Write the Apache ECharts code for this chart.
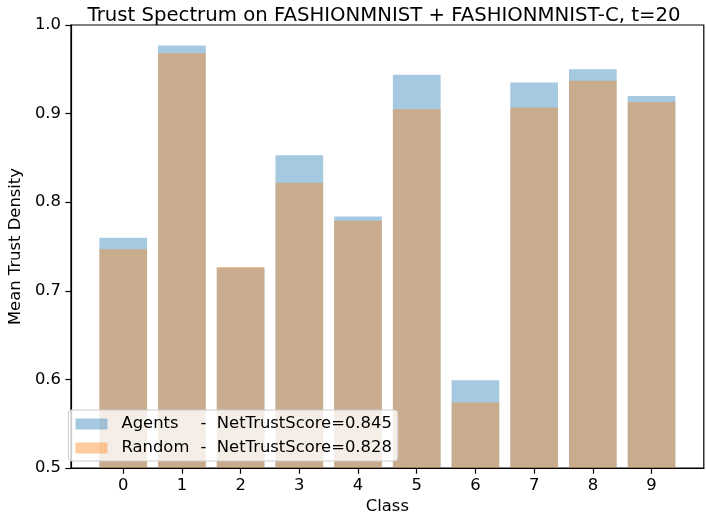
<!DOCTYPE html>
<html>
<head>
<meta charset="utf-8">
<script src="https://cdn.jsdelivr.net/npm/echarts@6/dist/echarts.min.js"></script>
<style>html,body{margin:0;padding:0;background:#fff}#c{width:706px;height:520px}</style>
</head>
<body>
<div id="c"></div>
<script>
var categories = [0, 1, 2, 3, 4, 5, 6, 7, 8, 9];
var agentsValues = [0.760, 0.977, 0.726, 0.853, 0.784, 0.944, 0.599, 0.935, 0.950, 0.920];
var randomValues = [0.747, 0.968, 0.727, 0.822, 0.779, 0.905, 0.574, 0.907, 0.937, 0.913];
var yTicks = [0.5, 0.6, 0.7, 0.8, 0.9, 1.0];
var agentsLabel = 'Agents';
var randomLabel = 'Random';
var agentsScore = '0.845';
var randomScore = '0.828';
var titleText = 'Trust Spectrum on FASHIONMNIST + FASHIONMNIST-C, t=20';

var font = 'DejaVu Sans';
var fs = 16.4;
var chart = echarts.init(document.getElementById('c'), null, {renderer: 'canvas'});
function pairs(vals) { return categories.map(function (c, i) { return [c, vals[i]]; }); }
var scores = {};
scores[agentsLabel] = agentsScore;
scores[randomLabel] = randomScore;

chart.setOption({
  animation: false,
  title: {
    text: titleText,
    left: 379, top: 1, textAlign: 'center',
    textStyle: {fontFamily: font, fontSize: 19.7, fontWeight: 'normal', color: '#000'}
  },
  grid: {left: 60.6, right: 2.2, top: 25, bottom: 48.3, show: true, borderColor: '#000', borderWidth: 1.2, backgroundColor: 'transparent'},
  legend: {
    orient: 'vertical', left: 68.5, top: 410,
    itemWidth: 32, itemHeight: 11, itemGap: 6,
    padding: [5, 6, 4, 7],
    backgroundColor: 'rgba(255,255,255,0.8)', borderColor: '#cccccc', borderWidth: 1, borderRadius: 3,
    icon: 'rect',
    data: [agentsLabel, randomLabel],
    formatter: function (name) { return '{n|' + name + '}{d|-  NetTrustScore=' + scores[name] + '}'; },
    textStyle: {
      fontFamily: font, fontSize: fs, color: '#000', lineHeight: 18, padding: [0, 0, 0, 9],
      rich: {
        n: {fontFamily: font, fontSize: fs, width: 79, color: '#000'},
        d: {fontFamily: font, fontSize: fs, color: '#000'}
      }
    }
  },
  xAxis: {
    type: 'value', min: -0.89, max: 9.89,
    name: 'Class', nameLocation: 'middle', nameGap: 30,
    nameTextStyle: {fontFamily: font, fontSize: fs, color: '#000'},
    axisLine: {show: true, onZero: false, lineStyle: {color: '#000', width: 1.2}},
    axisTick: {show: true, customValues: categories, length: 5.6, lineStyle: {color: '#000', width: 1.2}},
    axisLabel: {customValues: categories, margin: 10, fontFamily: font, fontSize: fs, color: '#000'},
    splitLine: {show: false}
  },
  yAxis: {
    type: 'value', min: 0.5, max: 1.0, interval: 0.1,
    name: 'Mean Trust Density', nameLocation: 'middle', nameGap: 44,
    nameTextStyle: {fontFamily: font, fontSize: fs, color: '#000'},
    axisLine: {show: true, onZero: false, lineStyle: {color: '#000', width: 1.2}},
    axisTick: {show: true, length: 5.6, lineStyle: {color: '#000', width: 1.2}},
    axisLabel: {margin: 10, fontFamily: font, fontSize: fs, color: '#000', formatter: function (v) { return v.toFixed(1); }},
    splitLine: {show: false}
  },
  series: [
    {name: agentsLabel, type: 'bar', data: pairs(agentsValues), barWidth: 47.7, barGap: '-100%',
     itemStyle: {color: 'rgba(31,119,180,0.4)'}, clip: true},
    {name: randomLabel, type: 'bar', data: pairs(randomValues), barWidth: 47.7, barGap: '-100%',
     itemStyle: {color: 'rgba(255,127,14,0.4)'}, clip: true}
  ]
});
</script>
</body>
</html>
